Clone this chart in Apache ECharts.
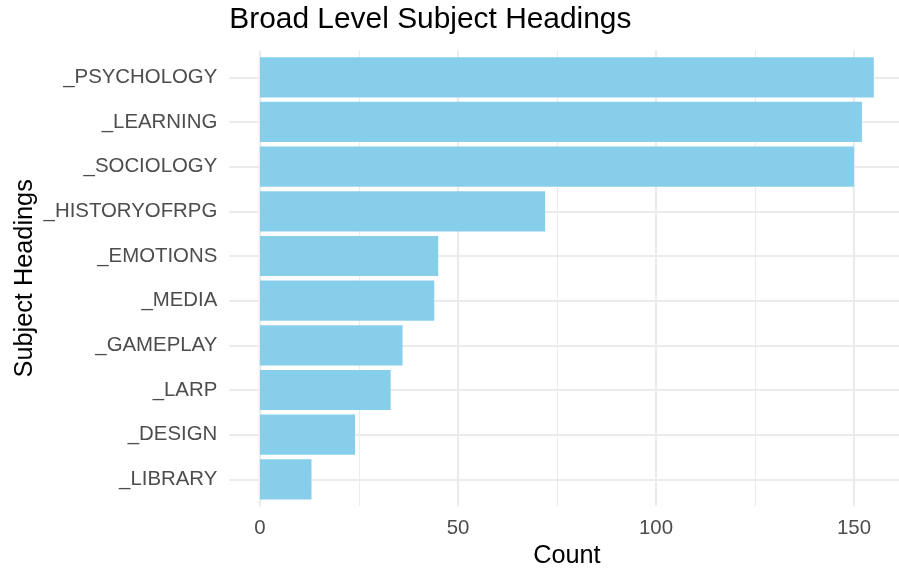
<!DOCTYPE html>
<html>
<head>
<meta charset="utf-8">
<script src="https://cdn.jsdelivr.net/npm/echarts@6/dist/echarts.min.js"></script>
<style>
html,body{margin:0;padding:0;background:#fff;overflow:hidden;}
#chart{width:910px;height:568px;}
</style>
</head>
<body>
<div id="chart"></div>
<script>
var categories = ['_PSYCHOLOGY','_LEARNING','_SOCIOLOGY','_HISTORYOFRPG','_EMOTIONS','_MEDIA','_GAMEPLAY','_LARP','_DESIGN','_LIBRARY'];
var counts = [155, 152, 150, 72, 45, 44, 36, 33, 24, 13];
var titleText = 'Broad Level Subject Headings';
var xName = 'Count';
var yName = 'Subject Headings';

var FONT = 'Liberation Sans, Arial, Helvetica, sans-serif';
var GRID_COLOR = '#EBEBEB';
var X_MIN = -7.75, X_MAX = 162.75;
var PANEL_LEFT = 229.3, PANEL_WIDTH = 675.2;
var BAND = 44.67;
var PANEL_TOP = 50.5, PANEL_H = 455.7;
var BAR_TOP = PANEL_TOP + 0.1 * BAND, BAR_H = 10 * BAND;
var LINE_TOP = PANEL_TOP + 0.6 * BAND, LINE_H = 9 * BAND;

var chart = echarts.init(document.getElementById('chart'), null, {renderer: 'canvas'});

var hiddenX = function (idx) {
  return {
    type: 'value', gridIndex: idx, min: X_MIN, max: X_MAX,
    axisLine: {show: false}, axisTick: {show: false}, axisLabel: {show: false},
    splitLine: {show: false}
  };
};

chart.setOption({
  animation: false,
  backgroundColor: '#ffffff',
  title: {
    text: titleText,
    left: PANEL_LEFT,
    top: 5,
    padding: 0,
    textStyle: {fontFamily: FONT, fontSize: 29.9, fontWeight: 'normal', color: '#000000'}
  },
  grid: [
    {left: PANEL_LEFT, width: PANEL_WIDTH, top: PANEL_TOP, height: PANEL_H, containLabel: false, outerBoundsMode: 'none'},
    {left: PANEL_LEFT, width: PANEL_WIDTH, top: BAR_TOP, height: BAR_H, containLabel: false, outerBoundsMode: 'none'},
    {left: PANEL_LEFT, width: PANEL_WIDTH, top: LINE_TOP, height: LINE_H, containLabel: false, outerBoundsMode: 'none'}
  ],
  xAxis: [
    {
      type: 'value', gridIndex: 0, min: X_MIN, max: X_MAX,
      splitNumber: 4, minInterval: 50, maxInterval: 50,
      name: xName, nameLocation: 'middle', nameGap: 48,
      nameTextStyle: {fontFamily: FONT, fontSize: 25.3, color: '#000000', verticalAlign: 'middle'},
      axisLine: {show: false}, axisTick: {show: false},
      axisLabel: {
        showMinLabel: false, showMaxLabel: false, margin: 12,
        fontFamily: FONT, fontSize: 20.4, color: '#4D4D4D',
        formatter: function (v) { return (v % 50 === 0) ? String(v) : ''; }
      },
      splitLine: {show: true, showMinLine: false, showMaxLine: false, lineStyle: {color: GRID_COLOR, width: 2.2}},
      minorTick: {show: false, splitNumber: 2},
      minorSplitLine: {show: true, lineStyle: {color: GRID_COLOR, width: 1.1}}
    },
    hiddenX(1),
    hiddenX(2)
  ],
  yAxis: [
    {
      type: 'value', gridIndex: 0, min: 0, max: 1,
      axisLine: {show: false}, axisTick: {show: false}, axisLabel: {show: false}, splitLine: {show: false},
      name: yName, nameLocation: 'middle', nameGap: 204, nameRotate: 90,
      nameTextStyle: {fontFamily: FONT, fontSize: 25.3, color: '#000000', verticalAlign: 'middle'}
    },
    {
      type: 'category', gridIndex: 1, data: categories, inverse: true,
      axisLine: {show: false}, axisTick: {show: false}, splitLine: {show: false},
      axisLabel: {interval: 0, margin: 12, padding: [2, 0, 0, 0], fontFamily: FONT, fontSize: 20.4, color: '#4D4D4D'}
    },
    {
      type: 'category', gridIndex: 2, data: categories, inverse: true, boundaryGap: false,
      axisLine: {show: false}, axisTick: {show: false}, axisLabel: {show: false, interval: 0},
      splitLine: {show: true, interval: 0, lineStyle: {color: GRID_COLOR, width: 2.2}}
    }
  ],
  series: [
    {
      type: 'bar', xAxisIndex: 1, yAxisIndex: 1,
      data: counts,
      barCategoryGap: '10%',
      itemStyle: {color: '#87CEEB'},
      silent: true
    }
  ]
});
</script>
</body>
</html>
